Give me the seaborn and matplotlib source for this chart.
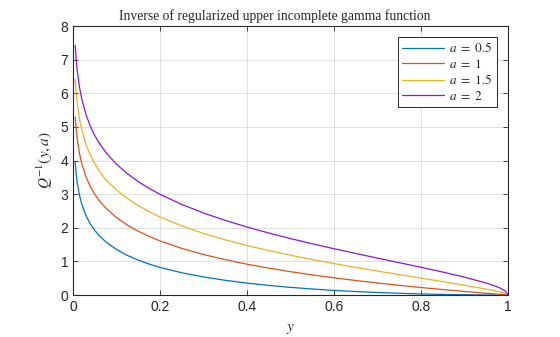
import numpy as np
import pandas as pd
import matplotlib
matplotlib.use("Agg")
import matplotlib.pyplot as plt
import seaborn as sns

# Probability values y at which the inverse is evaluated
y_vals = [0.005, 0.0075, 0.01, 0.015, 0.02, 0.03, 0.04, 0.05, 0.06, 0.075, 0.1,
          0.125, 0.15, 0.175, 0.2, 0.25, 0.3, 0.35, 0.4, 0.45, 0.5, 0.55, 0.6,
          0.65, 0.7, 0.75, 0.8, 0.85, 0.9, 0.95, 0.97, 0.98, 0.99, 0.995, 1.0]

# Q^{-1}(y, a) for each shape parameter a
q_a05 = [3.940, 3.575, 3.317, 2.958, 2.706, 2.355, 2.109, 1.921, 1.769, 1.585,
         1.353, 1.177, 1.036, 0.920, 0.821, 0.662, 0.537, 0.437, 0.354, 0.285,
         0.2275, 0.1787, 0.1375, 0.1030, 0.0742, 0.0508, 0.0321, 0.0179,
         0.0079, 0.0020, 0.0007, 0.0003, 0.0001, 0.00002, 0.0]
q_a1 = [5.298, 4.893, 4.605, 4.200, 3.912, 3.507, 3.219, 2.996, 2.813, 2.590,
        2.303, 2.079, 1.897, 1.743, 1.609, 1.386, 1.204, 1.050, 0.916, 0.799,
        0.693, 0.598, 0.511, 0.431, 0.357, 0.288, 0.223, 0.163, 0.105, 0.051,
        0.0305, 0.020, 0.010, 0.005, 0.0]
q_a15 = [6.419, 5.983, 5.672, 5.233, 4.918, 4.470, 4.156, 3.908, 3.704, 3.425,
         3.125, 2.870, 2.658, 2.478, 2.321, 2.054, 1.832, 1.641, 1.473, 1.321,
         1.183, 1.055, 0.934, 0.821, 0.712, 0.606, 0.502, 0.399, 0.292, 0.176,
         0.1226, 0.092, 0.0575, 0.0358, 0.0]
q_a2 = [7.430, 6.968, 6.638, 6.169, 5.833, 5.357, 5.013, 4.744, 4.522, 4.248,
        3.890, 3.607, 3.372, 3.171, 2.994, 2.693, 2.439, 2.219, 2.022, 1.844,
        1.678, 1.524, 1.3765, 1.235, 1.097, 0.961, 0.824, 0.683, 0.532, 0.355,
        0.2675, 0.2165, 0.1486, 0.1035, 0.0]

labels = ["$a\\ =\\ 0.5$", "$a\\ =\\ 1$", "$a\\ =\\ 1.5$", "$a\\ =\\ 2$"]
colors = ["#0072BD", "#D95319", "#EDB120", "#8A16DC"]
x_ticks = [0, 0.2, 0.4, 0.6, 0.8, 1]
x_tick_labels = ["0", "0.2", "0.4", "0.6", "0.8", "1"]
y_ticks = [0, 1, 2, 3, 4, 5, 6, 7, 8]

frames = []
for lab, vals in zip(labels, [q_a05, q_a1, q_a15, q_a2]):
    frames.append(pd.DataFrame({"y": y_vals, "q": vals, "series": lab}))
df = pd.concat(frames, ignore_index=True)

sns.set_style("white")
plt.rcParams["font.family"] = ["Liberation Sans", "DejaVu Sans"]
plt.rcParams["mathtext.fontset"] = "stix"

fig = plt.figure(figsize=(5.6, 3.37), dpi=100)
ax = fig.add_axes([0.1304, 0.1246, 0.7768, 0.7982])

sns.lineplot(data=df, x="y", y="q", hue="series", palette=colors,
             linewidth=0.9, ax=ax, sort=False, legend=True)

ax.set_xlim(0, 1)
ax.set_ylim(0, 8)
ax.set_xticks(x_ticks)
ax.set_xticklabels(x_tick_labels)
ax.set_yticks(y_ticks)
ax.grid(True, color="#DFDFDF", linewidth=0.7)
ax.set_axisbelow(True)
for s in ax.spines.values():
    s.set_color("#262626")
    s.set_linewidth(0.8)
ax.tick_params(direction="in", length=3.5, width=0.6, colors="#262626",
               labelsize=10, top=True, right=True, bottom=True, left=True,
               labelcolor="#262626")

ax.set_title("Inverse of regularized upper incomplete gamma function",
             fontfamily="Liberation Serif", fontsize=9.8, color="#262626",
             pad=4, x=0.464)
ax.set_xlabel("$y$", fontsize=11, color="#262626", labelpad=6)
ax.set_ylabel("$Q^{-1}(y,a)$", fontsize=11, color="#262626", labelpad=4)

leg = ax.legend(loc="upper right", fontsize=9.5, frameon=True, fancybox=False,
                edgecolor="#262626", framealpha=1, borderpad=0.3,
                handlelength=3.2, handletextpad=0.4, labelspacing=0.2,
                borderaxespad=0.85)
leg.get_frame().set_linewidth(0.7)
for line in leg.get_lines():
    line.set_linewidth(0.9)

fig.savefig("out.png", dpi=100)
